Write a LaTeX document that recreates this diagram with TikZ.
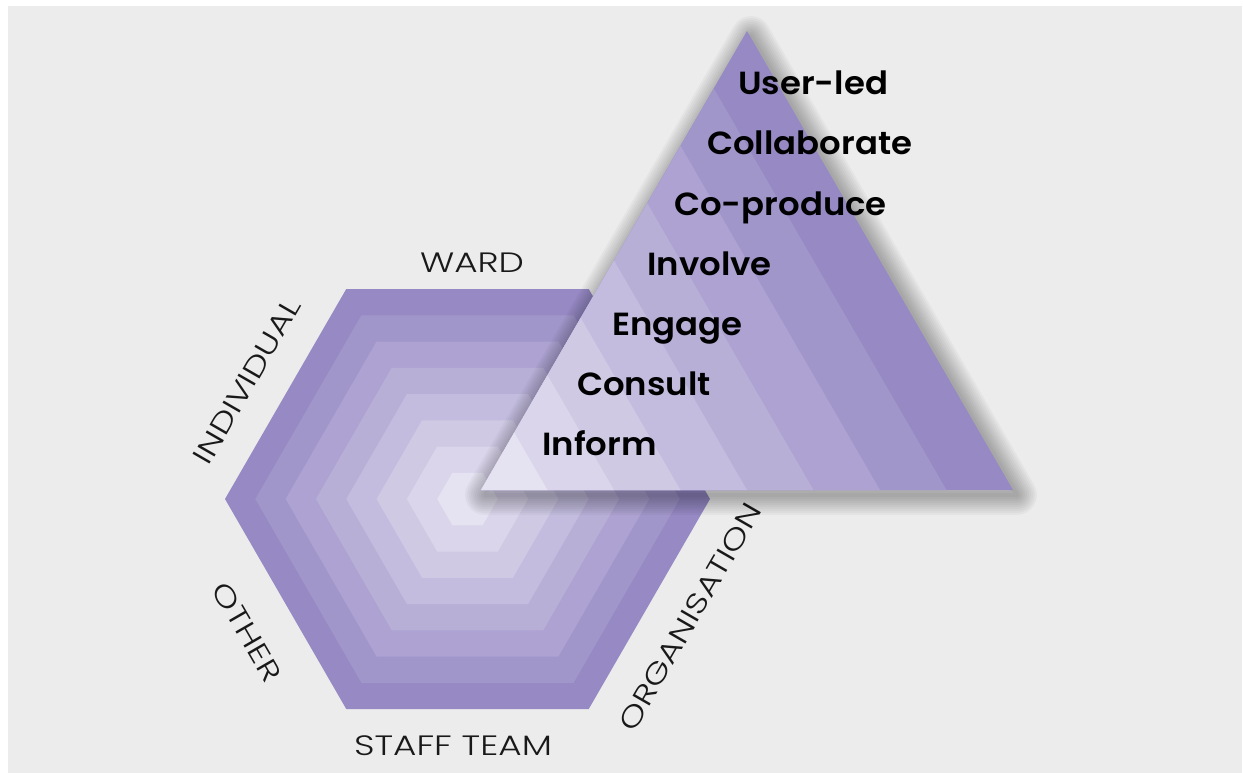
\documentclass[tikz,border=0pt]{standalone}
\usepackage{fontspec}
\usepackage{graphicx}
\usetikzlibrary{calc}
\IfFontExistsTF{Poppins SemiBold}{\newfontfamily\boldf{Poppins SemiBold}}{\newfontfamily\boldf{Poppins}[UprightFont=*-Bold]}
\IfFontExistsTF{Poppins Light}{\newfontfamily\lightf{Poppins Light}}{\newfontfamily\lightf{Poppins}}
\newcommand{\lvltext}[1]{\scalebox{1.06}[1]{#1}}
\newcommand{\sidetext}[1]{\scalebox{1.28}[1]{#1}}
\definecolor{bggray}{RGB}{236,236,236}
\definecolor{pdark}{RGB}{150,137,196}
\definecolor{plight}{RGB}{229,226,241}
\tikzset{
  lvl/.style={font=\boldf\fontsize{32}{32}\selectfont, text=black, anchor=base west, inner sep=0pt},
  side/.style={font=\lightf\fontsize{28}{28}\selectfont, text=black!90, inner sep=0pt},
  shadowline/.style={black, opacity=0.032, line join=round},
}
\begin{document}
\begin{tikzpicture}[x=1pt,y=-1pt]
\useasboundingbox (0,0) rectangle (1243,773);
\fill[white] (0,0) rectangle (1243,773);
\fill[bggray] (8,6) rectangle (1242,773);
% hexagon
\def\cx{467.5}\def\cy{499}
\foreach \k in {8,...,1}{
  \pgfmathsetmacro\R{242.5*\k/8}
  \pgfmathsetmacro\H{210*\k/8}
  \pgfmathsetmacro\t{(8-\k)/7*100}
  \fill[plight!\t!pdark] (\cx-\R,\cy) -- (\cx-\R/2,\cy-\H) -- (\cx+\R/2,\cy-\H) -- (\cx+\R,\cy) -- (\cx+\R/2,\cy+\H) -- (\cx-\R/2,\cy+\H) -- cycle;
}
\node[side] (ward) at (472,263) {\sidetext{WARD}};
\node[side, rotate=60] (indiv) at (247,381) {\sidetext{INDIVIDUAL}};
\node[side, rotate=-60] (other) at (247,632) {\sidetext{OTHER}};
\node[side] (staff) at (453,746) {\sidetext{STAFF TEAM}};
\node[side, rotate=60] (org) at (690,617) {\sidetext{ORGANISATION}};
% triangle
\coordinate (A) at (481,490);
\coordinate (B) at (1013,490);
\coordinate (C) at (747,31);
\coordinate (As) at ($(A)+(4,5)$);
\coordinate (Bs) at ($(B)+(4,5)$);
\coordinate (Cs) at ($(C)+(4,5)$);
\foreach \w in {40,36,...,4}{
  \draw[shadowline, line width=\w pt] (As) -- (Bs) -- (Cs) -- cycle;
}
\fill[pdark] (A) -- (B) -- (C) -- cycle;
\foreach \j in {7,...,1}{
  \pgfmathsetmacro\f{\j/8}
  \pgfmathsetmacro\t{(8-\j)/7*100}
  \fill[plight!\t!pdark] (A) -- ($(A)!\f!(B)$) -- ($(A)!\f!(C)$) -- cycle;
}
\node[lvl] (u) at (738,95) {\lvltext{User-led}};
\node[lvl] (col) at (707,155) {\lvltext{Collaborate}};
\node[lvl] (cop) at (674,215) {\lvltext{Co-produce}};
\node[lvl] (inv) at (647,275) {\lvltext{Involve}};
\node[lvl] (eng) at (612,335) {\lvltext{Engage}};
\node[lvl] (con) at (577,395) {\lvltext{Consult}};
\node[lvl] (inf) at (542,455) {\lvltext{Inform}};
\end{tikzpicture}
\end{document}
